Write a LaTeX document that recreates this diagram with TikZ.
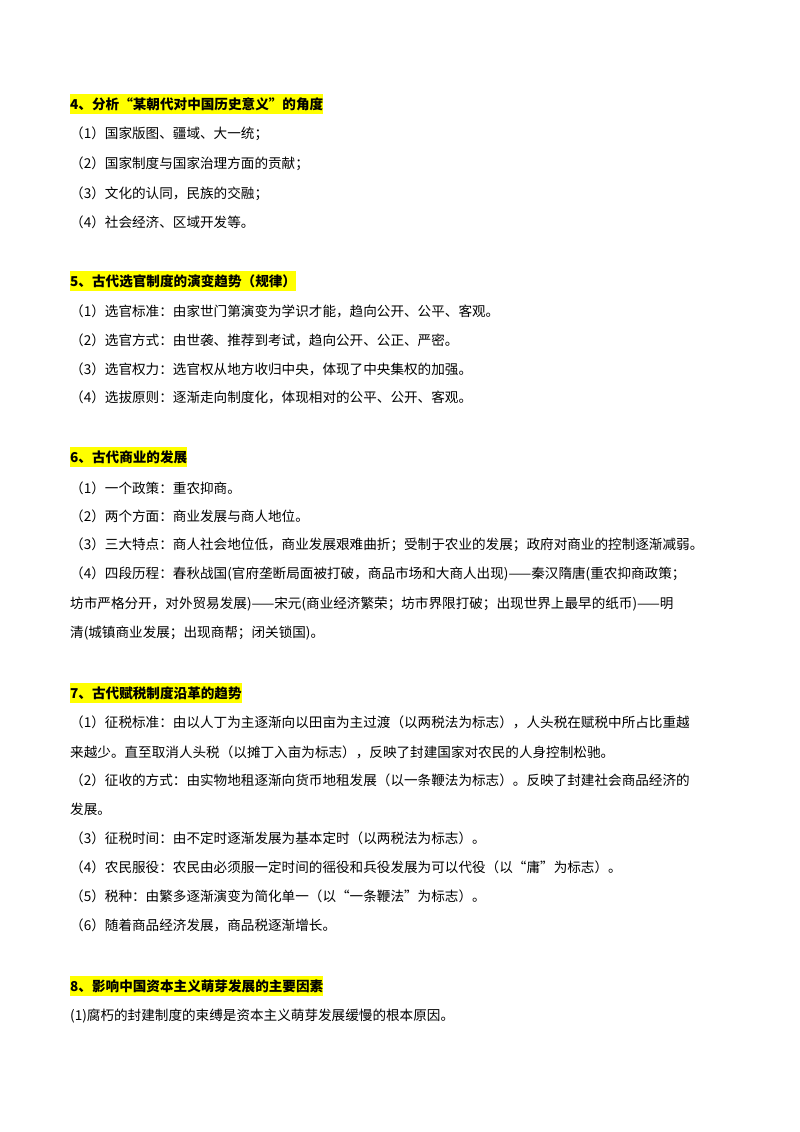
\documentclass[tikz,border=0pt]{standalone}
\usepackage{fontspec}
\setmainfont{Noto Sans CJK SC}
\definecolor{hl}{RGB}{255,255,0}
\begin{document}
\begin{tikzpicture}[x=1pt,y=-1pt,
  body/.style={anchor=west,inner sep=0pt,font=\fontsize{13.6}{14}\selectfont},
  head/.style={anchor=west,inner xsep=0pt,inner ysep=3pt,fill=hl,font=\fontsize{13.6}{14}\selectfont\bfseries}]
\useasboundingbox[fill=white] (0,0) rectangle (800,1132);
\node[head] (h4) at (70,104) {4、分析“某朝代对中国历史意义”的角度};
\node[body] (a1) at (70,134) {（1）国家版图、疆域、大一统；};
\node[body] (a2) at (70,164) {（2）国家制度与国家治理方面的贡献；};
\node[body] (a3) at (70,194) {（3）文化的认同，民族的交融；};
\node[body] (a4) at (70,222) {（4）社会经济、区域开发等。};

\node[head] (h5) at (70,281) {5、古代选官制度的演变趋势（规律）};
\node[body] (b1) at (70,311) {（1）选官标准：由家世门第演变为学识才能，趋向公开、公平、客观。};
\node[body] (b2) at (70,340) {（2）选官方式：由世袭、推荐到考试，趋向公开、公正、严密。};
\node[body] (b3) at (70,369) {（3）选官权力：选官权从地方收归中央，体现了中央集权的加强。};
\node[body] (b4) at (70,397) {（4）选拔原则：逐渐走向制度化，体现相对的公平、公开、客观。};

\node[head] (h6) at (70,457) {6、古代商业的发展};
\node[body] (c1) at (70,488) {（1）一个政策：重农抑商。};
\node[body] (c2) at (70,516) {（2）两个方面：商业发展与商人地位。};
\node[body] (c3) at (70,545) {（3）三大特点：商人社会地位低，商业发展艰难曲折；受制于农业的发展；政府对商业的控制逐渐减弱。};
\node[body] (c4) at (70,574) {（4）四段历程：春秋战国(官府垄断局面被打破，商品市场和大商人出现)——秦汉隋唐(重农抑商政策；};
\node[body] (c5) at (70,604) {坊市严格分开，对外贸易发展)——宋元(商业经济繁荣；坊市界限打破；出现世界上最早的纸币)——明};
\node[body] (c6) at (70,633) {清(城镇商业发展；出现商帮；闭关锁国)。};

\node[head] (h7) at (70,693) {7、古代赋税制度沿革的趋势};
\node[body] (d1) at (70,722) {（1）征税标准：由以人丁为主逐渐向以田亩为主过渡（以两税法为标志），人头税在赋税中所占比重越};
\node[body] (d2) at (70,752) {来越少。直至取消人头税（以摊丁入亩为标志），反映了封建国家对农民的人身控制松驰。};
\node[body] (d3) at (70,780) {（2）征收的方式：由实物地租逐渐向货币地租发展（以一条鞭法为标志）。反映了封建社会商品经济的};
\node[body] (d4) at (70,809) {发展。};
\node[body] (d5) at (70,838) {（3）征税时间：由不定时逐渐发展为基本定时（以两税法为标志）。};
\node[body] (d6) at (70,867) {（4）农民服役：农民由必须服一定时间的徭役和兵役发展为可以代役（以“庸”为标志）。};
\node[body] (d7) at (70,896) {（5）税种：由繁多逐渐演变为简化单一（以“一条鞭法”为标志）。};
\node[body] (d8) at (70,925) {（6）随着商品经济发展，商品税逐渐增长。};

\node[head] (h8) at (70,986) {8、影响中国资本主义萌芽发展的主要因素};
\node[body] (e1) at (70,1016) {(1)腐朽的封建制度的束缚是资本主义萌芽发展缓慢的根本原因。};
\end{tikzpicture}
\end{document}
